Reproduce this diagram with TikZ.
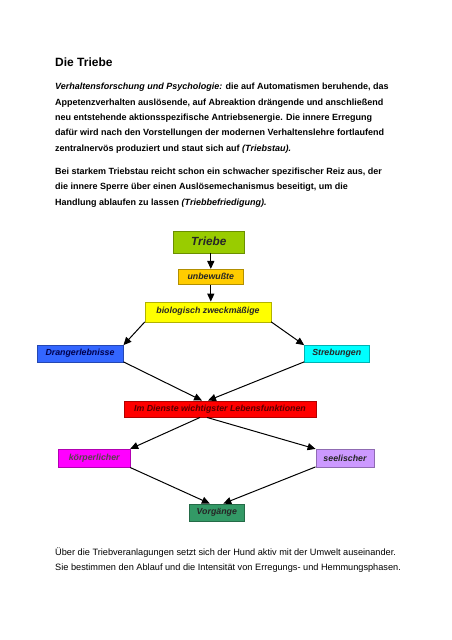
\documentclass[tikz,border=0pt]{standalone}
\usepackage{fontspec}
\setmainfont{Liberation Sans}
\usetikzlibrary{arrows.meta,positioning,calc}
\definecolor{Lime}{HTML}{99CC00}
\definecolor{Gold}{HTML}{FFCC00}
\definecolor{Lemon}{HTML}{FFFF00}
\definecolor{Royal}{HTML}{3366FF}
\definecolor{Aqua}{HTML}{00FFFF}
\definecolor{Signal}{HTML}{FF0000}
\definecolor{Pink}{HTML}{FF00FF}
\definecolor{Lilac}{HTML}{CC99FF}
\definecolor{Sea}{HTML}{339966}
\tikzset{
 para/.style={anchor=north west,inner sep=0pt,align=left,font=\fontsize{9}{15.4}\selectfont\bfseries},
 tbox/.style={inner sep=0pt,font=\fontsize{8.8}{10}\selectfont\bfseries\itshape,text=black!85,
   draw=#1!70!black,line width=0.3pt,fill=#1},
 arr/.style={-{Triangle[length=2.8mm,width=2.5mm]},line width=1pt,draw=black}
}
\begin{document}
\begin{tikzpicture}[x=1pt,y=-1pt]
\useasboundingbox (0,0) rectangle (452,640);
% heading and text
\node[anchor=base west,inner sep=0pt,font=\fontsize{12}{14}\selectfont\bfseries] (title) at (55,66) {Die Triebe};
\node[para] (p1) at (55,83) {\textit{Verhaltensforschung und Psychologie:} die auf Automatismen beruhende, das\\
Appetenzverhalten auslösende, auf Abreaktion drängende und anschließend\\
neu entstehende aktionsspezifische Antriebsenergie. Die innere Erregung\\
dafür wird nach den Vorstellungen der modernen Verhaltenslehre fortlaufend\\
zentralnervös produziert und staut sich auf \textit{(Triebstau).}};
\node[para] (p2) at (55,167.5) {Bei starkem Triebstau reicht schon ein schwacher spezifischer Reiz aus, der\\
die innere Sperre über einen Auslösemechanismus beseitigt, um die\\
Handlung ablaufen zu lassen \textit{(Triebbefriedigung).}};
% boxes
\node[tbox=Lime,minimum width=71pt,minimum height=22pt,font=\fontsize{11.8}{13}\selectfont\bfseries\itshape] (trieb) at (208.8,241.7) {Triebe};
\node[tbox=Gold,minimum width=65pt,minimum height=15.3pt] (unbew) at (210.8,276.7) {unbewußte};
\node[tbox=Lemon,minimum width=126pt,minimum height=20pt] (bio) at (208,311.7) {biologisch zweckmäßige};
\node[tbox=Royal,minimum width=86.6pt,minimum height=16.4pt,text=blue!30!black] (drang) at (80,353.5) {Drangerlebnisse};
\node[tbox=Aqua,minimum width=64.7pt,minimum height=16.4pt] (streb) at (336.7,353.5) {Strebungen};
\node[tbox=Signal,minimum width=192pt,minimum height=16.6pt,text=red!35!black] (dienst) at (220,409) {Im Dienste wichtigster Lebensfunktionen};
\node[tbox=Pink,minimum width=71.7pt,minimum height=18.3pt,text=black!75!magenta] (koerp) at (94.2,458.2) {körperlicher};
\node[tbox=Lilac,minimum width=58.6pt,minimum height=17.7pt] (seel) at (345,457.9) {seelischer};
\node[tbox=Sea,minimum width=55pt,minimum height=17.3pt] (vorg) at (216.8,512.4) {Vorgänge};
% arrows
\draw[arr] (trieb.south -| unbew) -- (unbew);
\draw[arr] (unbew) -- (unbew.south |- bio.north);
\draw[arr] (bio.south west) -- (drang.north east);
\draw[arr] (bio.south east) -- (streb.north west);
\draw[arr] (drang.south east) -- ($(dienst.north)+(-18,0)$);
\draw[arr] (streb.south west) -- ($(dienst.north)+(-12,0)$);
\draw[arr] ($(dienst.south)+(-20,0)$) -- (koerp.north east);
\draw[arr] ($(dienst.south)+(-13,0)$) -- (seel.north west);
\draw[arr] (koerp.south east) -- ($(vorg.north)+(-7,0)$);
\draw[arr] (seel.south west) -- ($(vorg.north)+(6.5,0)$);
% closing text
\node[para,font=\fontsize{9.2}{15}\selectfont] (p3) at (55,547.5) {Über die Triebveranlagungen setzt sich der Hund aktiv mit der Umwelt auseinander.\\
Sie bestimmen den Ablauf und die Intensität von Erregungs- und Hemmungsphasen.};
\end{tikzpicture}
\end{document}
